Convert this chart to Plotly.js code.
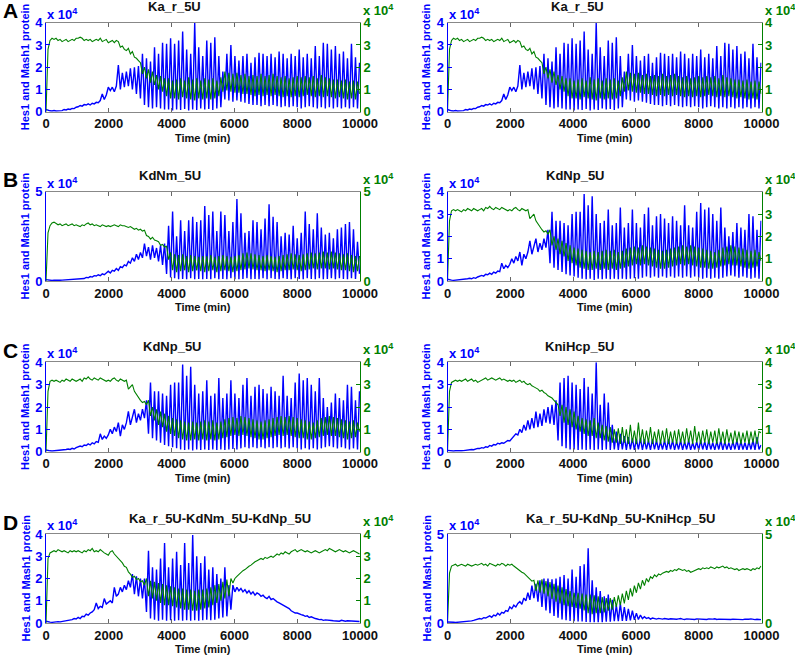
<!DOCTYPE html>
<html><head><meta charset="utf-8">
<script src="https://cdn.plot.ly/plotly-3.0.1.min.js"></script>
<style>html,body{margin:0;padding:0;background:#fff}#chart{width:795px;height:657px}</style>
</head><body><div id="chart"></div>
<script>
// Sampling step of every series (minutes); values are in units of 10^4 molecules
const T_STEP = 64;
const xTicks = [0, 2000, 4000, 6000, 8000, 10000];
const xTickText = ['0', '2000', '4000', '6000', '8000', '10000'];

// Ka_r_5U
const kaR_blue = [
0.10,0.06,0.04,0.03,0.05,0.03,0.04,0.06,0.05,0.10,0.08,0.12,0.10,0.15,0.14,0.20,
0.22,0.28,0.25,0.32,0.30,0.35,0.30,0.38,0.35,0.42,0.40,0.50,0.80,0.55,0.75,1.10,
0.95,1.10,0.90,1.15,2.10,1.00,1.75,1.10,1.80,1.15,1.95,1.00,2.00,0.80,2.05,0.60,
2.60,0.30,2.40,0.20,2.25,0.15,2.90,0.20,2.60,0.15,3.10,0.10,3.05,0.10,3.30,0.05,
3.05,0.10,3.20,0.08,3.60,0.12,2.80,0.05,2.60,0.10,4.00,0.08,2.90,0.15,2.50,0.10,
3.20,0.12,3.10,0.08,3.35,0.15,2.50,0.20,1.80,0.55,2.60,0.50,3.00,0.45,2.50,0.50,
2.30,0.45,2.50,0.40,2.60,0.35,2.20,0.30,2.45,0.30,2.65,0.25,2.60,0.30,2.50,0.25,
2.60,0.30,2.45,0.25,2.70,0.20,2.60,0.25,2.40,0.20,2.60,0.25,2.50,0.20,2.80,0.15,
2.45,0.20,2.60,0.25,2.40,0.20,2.95,0.15,2.50,0.20,3.10,0.15,3.05,0.20,2.80,0.15,
2.95,0.20,2.60,0.15,2.70,0.20,2.40,0.15,3.05,0.20,2.45,0.15,2.20];
const kaR_green = [
0.00,2.80,3.20,3.30,3.25,3.30,3.20,3.25,3.15,3.20,3.25,3.15,3.20,3.25,3.20,3.30,
3.30,3.35,3.30,3.20,3.25,3.20,3.25,3.15,3.20,3.25,3.20,3.30,3.15,3.20,3.25,3.10,
3.15,3.20,3.10,3.20,3.15,2.90,2.95,2.80,2.75,2.85,2.60,2.70,2.45,2.40,2.30,2.20,
1.70,2.00,1.50,1.90,1.30,1.80,1.20,1.65,1.00,1.60,0.90,1.50,0.70,1.50,0.60,1.40,
0.60,1.45,0.55,1.50,0.65,1.40,0.60,1.55,0.55,1.45,0.50,1.50,0.60,1.40,0.55,1.50,
0.60,1.45,0.55,1.50,0.60,1.40,0.70,1.55,0.90,1.80,0.95,1.75,0.90,1.70,0.85,1.75,
0.85,1.65,0.80,1.70,0.80,1.60,0.75,1.65,0.70,1.60,0.75,1.70,0.70,1.60,0.75,1.65,
0.70,1.70,0.75,1.60,0.70,1.55,0.65,1.60,0.70,1.50,0.65,1.55,0.70,1.60,0.65,1.55,
0.70,1.60,0.75,1.55,0.70,1.60,0.65,1.50,0.70,1.65,0.65,1.55,0.70,1.50,0.65,1.45,
0.60,1.45,0.65,1.40,0.60,1.45,0.55,1.35,0.60,1.40,0.55,1.35,0.80];

// KdNm_5U
const kdNm_blue = [
0.08,0.05,0.04,0.03,0.04,0.03,0.05,0.04,0.05,0.06,0.05,0.07,0.06,0.08,0.07,0.10,
0.10,0.12,0.15,0.14,0.20,0.18,0.25,0.22,0.30,0.28,0.35,0.30,0.40,0.35,0.45,0.55,
0.45,0.60,0.55,0.70,0.60,0.80,0.75,0.90,0.85,1.10,1.00,1.30,1.10,1.50,1.20,1.60,
1.30,2.10,1.40,1.90,1.20,2.00,1.30,1.85,1.10,2.00,0.90,2.10,0.40,3.10,0.20,3.90,
0.15,2.50,0.10,3.40,0.12,2.80,0.10,3.40,0.15,3.60,0.10,3.30,0.12,3.40,0.10,4.20,
0.12,3.70,0.10,3.90,0.15,2.80,0.10,3.90,0.12,3.70,0.10,2.80,0.15,3.30,0.10,4.60,
0.10,3.80,0.12,2.70,0.15,2.80,0.10,3.40,0.12,3.30,0.10,2.90,0.15,3.50,0.10,4.30,
0.15,3.60,0.12,3.30,0.10,2.50,0.15,2.70,0.12,2.60,0.10,3.10,0.15,2.40,0.12,2.70,
0.10,3.90,0.15,3.20,0.12,2.90,0.10,3.80,0.15,3.00,0.10,2.60,0.12,2.70,0.15,2.40,
0.10,2.90,0.15,3.00,0.12,3.20,0.10,3.30,0.15,2.90,0.12,2.20,0.40];
const kdNm_green = [
0.00,2.70,3.10,3.25,3.30,3.20,3.15,3.20,3.10,3.15,3.20,3.10,3.15,3.20,3.10,3.15,
3.10,3.05,3.15,3.10,3.20,3.25,3.15,3.20,3.10,3.15,3.10,3.05,3.15,3.10,3.05,3.10,
3.05,3.10,3.15,3.10,3.05,3.15,3.10,3.10,3.05,3.00,3.05,2.95,2.90,2.95,2.85,2.90,
2.80,2.85,2.55,2.50,2.35,2.45,2.30,2.25,2.20,2.00,2.05,1.90,1.95,1.20,1.60,0.60,
1.50,0.50,1.45,0.55,1.50,0.60,1.40,0.50,1.45,0.55,1.40,0.60,1.35,0.55,1.40,0.50,
1.40,0.55,1.45,0.60,1.35,0.50,1.40,0.55,1.45,0.60,1.40,0.55,1.35,0.50,1.40,0.55,
1.45,0.60,1.55,0.65,1.60,0.70,1.55,0.65,1.50,0.60,1.45,0.60,1.40,0.55,1.45,0.60,
1.40,0.55,1.35,0.50,1.40,0.55,1.45,0.60,1.50,0.60,1.55,0.65,1.50,0.60,1.45,0.55,
1.50,0.60,1.55,0.65,1.60,0.70,1.55,0.65,1.60,0.70,1.65,0.70,1.60,0.65,1.65,0.70,
1.60,0.65,1.55,0.60,1.50,0.60,1.55,0.55,1.45,0.50,1.40,0.55,1.40];

// KdNp_5U
const kdNp_blue = [
0.08,0.05,0.04,0.03,0.04,0.05,0.04,0.06,0.05,0.08,0.10,0.12,0.10,0.15,0.12,0.18,
0.20,0.25,0.22,0.30,0.28,0.35,0.30,0.40,0.35,0.45,0.42,0.80,0.55,0.70,0.60,0.75,
1.00,0.80,1.10,0.90,1.30,0.70,1.20,1.00,1.30,1.80,1.20,1.50,1.90,1.30,1.70,1.40,
1.90,1.50,2.30,0.80,3.10,0.60,2.70,0.50,2.70,0.40,2.60,0.30,2.50,0.25,3.00,0.20,
3.10,0.15,3.10,0.10,3.90,0.08,3.40,0.10,3.80,0.05,3.00,0.10,2.60,0.08,2.70,0.10,
3.20,0.08,2.50,0.10,2.60,0.08,3.30,0.10,2.40,0.08,2.60,0.10,3.20,0.12,2.60,0.10,
2.40,0.15,3.00,0.20,3.30,0.15,2.50,0.20,2.90,0.15,3.00,0.20,2.80,0.15,2.60,0.20,
2.90,0.15,2.70,0.20,2.50,0.15,3.40,0.20,2.50,0.15,2.40,0.20,3.10,0.15,3.50,0.10,
3.20,0.15,3.30,0.10,3.00,0.15,2.70,0.10,3.30,0.15,2.40,0.20,2.00,0.25,2.20,0.20,
2.60,0.15,2.40,0.20,2.30,0.15,3.00,0.10,2.90,0.15,2.30,0.10,2.70];
const kdNp_green = [
0.00,2.70,3.15,3.20,3.15,3.20,3.15,3.10,3.20,3.15,3.25,3.20,3.15,3.25,3.20,3.15,
3.20,3.25,3.15,3.30,3.25,3.35,3.25,3.20,3.30,3.25,3.20,3.30,3.25,3.20,3.15,3.20,
3.15,3.25,3.30,3.20,3.15,3.25,3.20,3.15,3.20,2.80,2.90,3.00,2.70,2.55,2.40,2.30,
2.20,2.25,2.10,2.30,1.60,2.00,1.40,1.90,1.20,1.80,1.10,1.70,0.90,1.60,0.80,1.50,
0.70,1.45,0.60,1.40,0.55,1.35,0.50,1.30,0.50,1.35,0.55,1.30,0.50,1.35,0.55,1.40,
0.50,1.35,0.55,1.40,0.50,1.30,0.55,1.35,0.60,1.45,0.65,1.50,0.70,1.55,0.75,1.50,
0.70,1.60,0.75,1.55,0.70,1.50,0.65,1.45,0.60,1.40,0.55,1.35,0.55,1.40,0.60,1.45,
0.65,1.50,0.70,1.55,0.75,1.60,0.70,1.55,0.75,1.60,0.70,1.55,0.65,1.50,0.60,1.45,
0.60,1.40,0.55,1.35,0.55,1.30,0.60,1.40,0.65,1.50,0.70,1.55,0.75,1.60,0.70,1.55,
0.70,1.50,0.65,1.45,0.60,1.40,0.55,1.35,0.60,1.40,0.65,1.30,0.90];

// KniHcp_5U
const kniHcp_blue = [
0.06,0.04,0.03,0.03,0.04,0.03,0.05,0.04,0.05,0.07,0.06,0.08,0.10,0.09,0.12,0.15,
0.14,0.18,0.16,0.22,0.20,0.28,0.25,0.32,0.30,0.38,0.35,0.40,0.38,0.45,0.50,0.48,
0.60,0.70,0.80,0.75,1.00,0.85,1.20,0.95,1.40,1.00,1.50,1.05,1.80,1.10,1.70,1.15,
1.90,1.30,2.00,1.25,2.10,1.20,2.30,0.50,3.10,0.25,3.30,0.15,3.40,0.10,3.10,0.10,
3.00,0.08,2.80,0.10,3.30,0.08,2.90,0.10,2.60,0.08,4.00,0.10,2.10,0.08,2.60,0.10,
2.20,0.08,1.20,0.10,0.90,0.08,0.80,0.10,0.70,0.08,0.65,0.10,0.60,0.08,0.55,0.10,
0.60,0.08,0.55,0.10,0.50,0.08,0.55,0.10,0.50,0.08,0.45,0.10,0.50,0.08,0.55,0.10,
0.50,0.08,0.45,0.10,0.50,0.08,0.45,0.10,0.50,0.08,0.40,0.10,0.45,0.08,0.50,0.10,
0.45,0.08,0.50,0.10,0.40,0.08,0.45,0.10,0.50,0.08,0.45,0.10,0.40,0.08,0.45,0.10,
0.50,0.08,0.45,0.10,0.40,0.08,0.45,0.10,0.50,0.08,0.65,0.10,0.30];
const kniHcp_green = [
0.00,2.70,3.10,3.15,3.20,3.15,3.20,3.15,3.20,3.25,3.15,3.20,3.25,3.15,3.20,3.10,
3.15,3.20,3.25,3.30,3.20,3.25,3.30,3.25,3.20,3.25,3.30,3.20,3.25,3.20,3.15,3.20,
3.15,3.20,3.10,3.15,3.20,3.10,3.15,3.05,3.00,3.05,2.95,2.90,2.85,2.80,2.70,2.75,
2.65,2.60,2.50,2.45,2.40,2.30,2.20,2.10,1.60,2.10,1.30,2.00,1.20,1.90,1.10,1.80,
1.00,1.60,0.90,1.50,0.80,1.45,0.70,1.40,0.70,1.50,0.60,1.30,0.60,1.20,0.50,1.15,
0.45,1.10,0.40,1.00,0.40,1.05,0.35,1.10,0.40,1.00,0.35,1.20,0.40,0.95,0.35,1.30,
0.40,1.00,0.35,0.95,0.40,1.10,0.35,0.90,0.40,1.00,0.35,0.95,0.40,1.05,0.35,0.90,
0.40,0.95,0.35,1.00,0.40,0.90,0.35,1.05,0.40,0.95,0.35,1.15,0.40,0.90,0.35,0.95,
0.40,1.00,0.35,0.90,0.40,0.95,0.35,1.05,0.40,0.90,0.35,1.00,0.40,0.85,0.35,0.95,
0.40,0.90,0.35,0.85,0.40,0.95,0.35,0.90,0.40,0.95,0.35,0.90,0.85];

// Ka_r_5U-KdNm_5U-KdNp_5U
const triNm_blue = [
0.08,0.05,0.04,0.03,0.05,0.04,0.06,0.05,0.07,0.06,0.08,0.10,0.12,0.15,0.20,0.18,
0.25,0.20,0.30,0.28,0.40,0.35,0.45,0.50,0.60,0.90,0.65,0.75,0.70,1.10,0.85,0.95,
1.00,0.90,1.60,1.20,1.30,1.60,1.40,1.70,1.50,1.90,1.60,2.20,1.30,2.10,1.20,2.00,
1.10,2.00,0.50,3.25,0.20,2.50,0.15,2.40,0.10,2.90,0.15,3.60,0.10,2.50,0.12,2.90,
0.10,3.20,0.12,2.60,0.10,3.60,0.12,2.70,0.10,3.95,0.12,3.00,0.10,2.70,0.12,3.00,
0.15,2.40,0.12,2.50,0.15,2.20,0.20,2.00,0.25,2.50,0.30,1.70,0.60,1.70,1.40,1.60,
1.45,1.55,1.40,1.50,1.35,1.45,1.30,1.40,1.25,1.35,1.30,1.20,1.25,1.15,1.10,1.20,
1.05,1.10,1.00,0.95,0.90,0.85,0.80,0.75,0.70,0.65,0.55,0.50,0.45,0.45,0.40,0.38,
0.35,0.30,0.32,0.25,0.28,0.22,0.20,0.18,0.15,0.16,0.12,0.14,0.12,0.10,0.11,0.10,
0.09,0.10,0.08,0.12,0.09,0.08,0.10,0.09,0.08,0.10,0.09,0.08,0.07];
const triNm_green = [
0.00,2.90,3.15,3.20,3.25,3.20,3.30,3.25,3.20,3.25,3.20,3.15,3.25,3.20,3.25,3.20,
3.25,3.20,3.15,3.25,3.20,3.30,3.25,3.35,3.20,3.25,3.20,3.30,3.20,3.15,3.10,3.05,
3.20,3.25,3.10,3.00,2.90,2.80,2.70,2.55,2.50,2.30,2.20,2.05,2.10,1.95,2.00,1.85,
1.90,1.70,2.00,1.20,1.90,1.10,1.85,1.00,1.80,0.90,1.75,0.80,1.70,0.80,1.65,0.75,
1.60,0.70,1.55,0.65,1.55,0.60,1.50,0.60,1.50,0.55,1.45,0.55,1.50,0.60,1.50,0.65,
1.55,0.70,1.60,0.80,1.70,0.90,1.75,1.00,1.85,1.10,1.95,1.20,2.00,1.80,2.00,2.10,
2.20,2.25,2.35,2.40,2.50,2.55,2.60,2.70,2.75,2.80,2.85,2.90,2.85,2.95,2.90,2.95,
3.00,2.95,3.05,3.10,3.05,3.15,3.10,3.20,3.15,3.10,3.20,3.25,3.30,3.20,3.25,3.30,
3.25,3.20,3.25,3.20,3.15,3.20,3.25,3.20,3.15,3.20,3.25,3.30,3.25,3.35,3.30,3.25,
3.20,3.25,3.30,3.25,3.20,3.25,3.20,3.15,3.20,3.25,3.20,3.15,3.10];

// Ka_r_5U-KdNp_5U-KniHcp_5U
const triHcp_blue = [
0.06,0.04,0.03,0.04,0.03,0.04,0.03,0.05,0.04,0.06,0.08,0.10,0.12,0.15,0.18,0.20,
0.25,0.22,0.30,0.28,0.35,0.40,0.32,0.45,0.40,0.55,0.45,0.60,0.55,0.70,0.65,0.90,
0.80,1.00,0.90,1.10,1.20,1.05,1.40,1.25,1.70,1.30,2.10,1.40,2.20,1.20,2.40,0.90,
2.50,0.70,2.50,0.55,2.45,0.40,2.50,0.30,2.60,0.20,2.70,0.15,2.50,0.12,3.00,0.10,
2.60,0.08,3.20,0.08,3.30,0.06,4.20,0.05,2.40,0.05,2.00,0.05,1.80,0.05,1.50,0.08,
1.60,0.08,1.30,0.10,1.00,0.10,1.10,0.12,0.90,0.12,0.80,0.15,0.70,0.18,0.55,0.20,
0.45,0.25,0.35,0.25,0.30,0.22,0.28,0.25,0.22,0.26,0.24,0.22,0.25,0.23,0.21,0.24,
0.22,0.24,0.21,0.23,0.25,0.22,0.20,0.23,0.22,0.24,0.21,0.20,0.23,0.22,0.24,0.21,
0.22,0.20,0.23,0.21,0.22,0.24,0.20,0.22,0.21,0.23,0.20,0.22,0.21,0.20,0.22,0.21,
0.20,0.22,0.21,0.19,0.22,0.20,0.21,0.23,0.20,0.19,0.21,0.20,0.19];
const triHcp_green = [
0.00,2.80,3.20,3.25,3.30,3.20,3.25,3.30,3.25,3.20,3.30,3.25,3.20,3.25,3.30,3.25,
3.30,3.35,3.25,3.30,3.20,3.35,3.30,3.25,3.20,3.30,3.25,3.35,3.30,3.20,3.30,3.25,
3.30,3.20,3.10,3.05,2.95,2.85,2.80,2.70,2.60,2.50,2.35,2.40,1.80,2.40,1.70,2.45,
1.65,2.35,1.50,2.30,1.35,2.20,1.20,2.10,1.10,2.00,1.00,1.90,0.95,1.80,0.90,1.70,
0.85,1.70,0.80,1.65,0.70,1.60,0.55,1.60,0.50,1.55,0.55,1.50,0.55,1.45,0.60,1.40,
0.70,1.40,0.75,1.45,0.90,1.55,1.00,1.65,1.10,1.80,1.30,1.95,1.50,2.10,1.70,2.25,
1.90,2.40,2.10,2.50,2.30,2.60,2.50,2.70,2.60,2.75,2.70,2.80,2.85,2.90,2.85,2.95,
2.90,3.00,2.95,3.05,3.00,2.95,3.00,2.90,2.95,2.85,2.90,2.95,3.00,3.05,3.00,3.10,
3.05,3.10,3.05,3.15,3.10,3.05,3.15,3.10,3.15,3.20,3.10,3.15,3.05,3.10,3.05,3.00,
3.05,2.95,3.00,3.05,3.00,3.05,3.00,2.95,3.05,3.00,3.10,3.05,3.20];

const panelTitles = ['Ka_r_5U','Ka_r_5U','KdNm_5U','KdNp_5U','KdNp_5U','KniHcp_5U',
                     'Ka_r_5U-KdNm_5U-KdNp_5U','Ka_r_5U-KdNp_5U-KniHcp_5U'];
const panelLetters = ['A','B','C','D'];
const blueSeries  = [kaR_blue, kaR_blue, kdNm_blue, kdNp_blue, kdNp_blue, kniHcp_blue, triNm_blue, triHcp_blue];
const greenSeries = [kaR_green, kaR_green, kdNm_green, kdNp_green, kdNp_green, kniHcp_green, triNm_green, triHcp_green];
const yMax = [4, 4, 5, 4, 4, 4, 4, 5];

// ---- layout geometry (pixels) ----
const W = 795, H = 657;
const colX = [[46, 360], [447.5, 761.5]];
const rowY = [[22.7, 111.7], [191.8, 281], [362.3, 451.7], [534, 623]];
const titleCx = [174, 577, 170, 575, 172, 579, 220, 620];
const BLUE = '#0000ff', GREEN = '#008000';
const FONT = 'Liberation Sans, Arial, Helvetica, sans-serif';
const px = v => v / W, py = v => 1 - v / H;

const data = [], annotations = [];
const layout = {
  width: W, height: H, margin: {l: 0, r: 0, t: 0, b: 0},
  paper_bgcolor: '#fff', plot_bgcolor: '#fff', showlegend: false,
  font: {family: FONT}, annotations
};

for (let k = 0; k < 8; k++) {
  const n = k + 1, col = k % 2, row = Math.floor(k / 2);
  const [x0, x1] = colX[col], [y0, y1] = rowY[row];
  const xa = n === 1 ? 'x' : 'x' + n;
  const ya = n === 1 ? 'y' : 'y' + n;
  const ya2 = 'y' + (n + 8);
  const tB = blueSeries[k].map((_, i) => i * T_STEP);
  const tG = greenSeries[k].map((_, i) => i * T_STEP);
  data.push({type: 'scatter', mode: 'lines', x: tB, y: blueSeries[k], xaxis: xa, yaxis: ya,
             line: {color: BLUE, width: 1.4}, hoverinfo: 'skip'});
  data.push({type: 'scatter', mode: 'lines', x: tG, y: greenSeries[k], xaxis: xa, yaxis: ya2,
             line: {color: GREEN, width: 1.1}, hoverinfo: 'skip'});
  const yt = [];
  for (let v = 0; v <= yMax[k]; v++) if (yMax[k] === 5 ? (v === 0 || v === 5) : true) yt.push(v);
  layout['xaxis' + (n === 1 ? '' : n)] = {
    domain: [px(x0), px(x1)], anchor: ya, range: [0, 10000],
    tickvals: xTicks, ticktext: xTickText, ticks: 'inside', ticklen: 4, tickcolor: '#666',
    showline: true, linecolor: '#888', linewidth: 1, mirror: 'ticks',
    showgrid: false, zeroline: false, fixedrange: true,
    tickfont: {family: FONT, size: 13, color: '#111', weight: 'bold'}
  };
  layout['yaxis' + (n === 1 ? '' : n)] = {
    domain: [py(y1), py(y0)], anchor: xa, range: [0, yMax[k]], tickvals: yt,
    ticks: 'inside', ticklen: 4, tickcolor: BLUE, showline: true, linecolor: BLUE, linewidth: 1,
    showgrid: false, zeroline: false, fixedrange: true,
    tickfont: {family: FONT, size: 13, color: BLUE, weight: 'bold'}
  };
  layout['yaxis' + (n + 8)] = {
    overlaying: ya, side: 'right', anchor: xa, range: [0, yMax[k]], tickvals: yt,
    ticks: 'inside', ticklen: 4, tickcolor: GREEN, showline: true, linecolor: GREEN, linewidth: 1,
    showgrid: false, zeroline: false, fixedrange: true,
    tickfont: {family: FONT, size: 13, color: GREEN, weight: 'bold'}
  };
  const base = {xref: 'paper', yref: 'paper', showarrow: false};
  annotations.push(Object.assign({}, base, {x: px(titleCx[k]), y: py(y0 - 16), xanchor: 'center', yanchor: 'middle',
    text: panelTitles[k], font: {family: FONT, size: 13, color: '#111', weight: 'bold'}}));
  annotations.push(Object.assign({}, base, {x: px(x0 - 1), y: py(y0 - 9), xanchor: 'left', yanchor: 'middle',
    text: 'x 10<sup>4</sup>', font: {family: FONT, size: 13, color: BLUE, weight: 'bold'}}));
  annotations.push(Object.assign({}, base, {x: px(x1 + 1), y: py(y0 - 13), xanchor: 'left', yanchor: 'middle',
    text: 'x 10<sup>4</sup>', font: {family: FONT, size: 13, color: GREEN, weight: 'bold'}}));
  annotations.push(Object.assign({}, base, {x: px(col === 0 ? 25 : 426), y: py((y0 + y1) / 2), xanchor: 'center', yanchor: 'middle',
    textangle: -90, text: 'Hes1 and Mash1 protein', font: {family: FONT, size: 11, color: BLUE, weight: 'bold'}}));
  annotations.push(Object.assign({}, base, {x: px((x0 + x1) / 2), y: py(y1 + 26), xanchor: 'center', yanchor: 'middle',
    text: 'Time (min)', font: {family: FONT, size: 11, color: '#111', weight: 'bold'}}));
  if (col === 0) {
    annotations.push(Object.assign({}, base, {x: px(1), y: py(y0 - 12), xanchor: 'left', yanchor: 'middle',
      text: panelLetters[row], font: {family: FONT, size: 21, color: '#000', weight: 'bold'}}));
  }
}

Plotly.newPlot('chart', data, layout, {displayModeBar: false, staticPlot: true});
</script>
</body></html>
